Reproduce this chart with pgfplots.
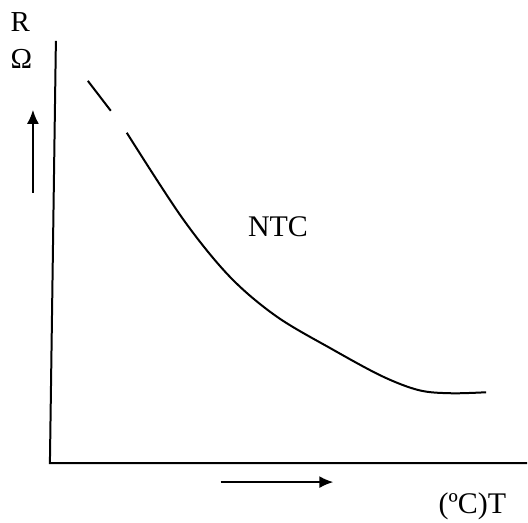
\documentclass[border=0pt]{standalone}
\usepackage{fontspec}
\setmainfont{Liberation Serif}
\usepackage{pgfplots}
\pgfplotsset{compat=1.18}
\usetikzlibrary{arrows.meta}

% pixel-like coordinates: x to the right, y downwards
\begin{document}
\begin{tikzpicture}
\begin{axis}[
    x=1pt, y=1pt,
    xmin=0, xmax=528,
    ymin=0, ymax=518,
    y dir=reverse,
    hide axis,
    clip=false,
]
% bounding frame of the picture
\addplot[draw=none, no markers] coordinates {(0,0) (528,518)};

% axes
\addplot[black, no markers, line width=2pt] coordinates {(56,41) (50,464) (528,464)};

% NTC curve (with a small gap near the top)
\addplot[black, no markers, line width=2pt] coordinates {(88,81) (111,111)};
\addplot[black, no markers, line width=2pt, smooth, tension=0.55] coordinates {
    (127,133) (183,219) (230,277) (277,317)
    (333,350) (383,377) (420,391) (452,394) (487,393)
};

% direction arrows
\addplot[black, no markers, line width=2pt, -{Latex[length=14pt,width=12pt]}] coordinates {(33,193) (33,110)};
\addplot[black, no markers, line width=2pt, -{Latex[length=14pt,width=12pt]}] coordinates {(221,483) (334,483)};

\node[anchor=base west, font=\fontsize{29}{34}\selectfont] at (axis cs:7,32) {R};
\node[anchor=base west, font=\fontsize{29}{34}\selectfont] at (axis cs:7,69) {Ω};
\node[anchor=base west, font=\fontsize{30}{36}\selectfont] at (axis cs:245,237) {NTC};
\node[anchor=base west, font=\fontsize{30}{36}\selectfont] at (axis cs:436,514) {(ºC)T};
\end{axis}
\end{tikzpicture}
\end{document}
